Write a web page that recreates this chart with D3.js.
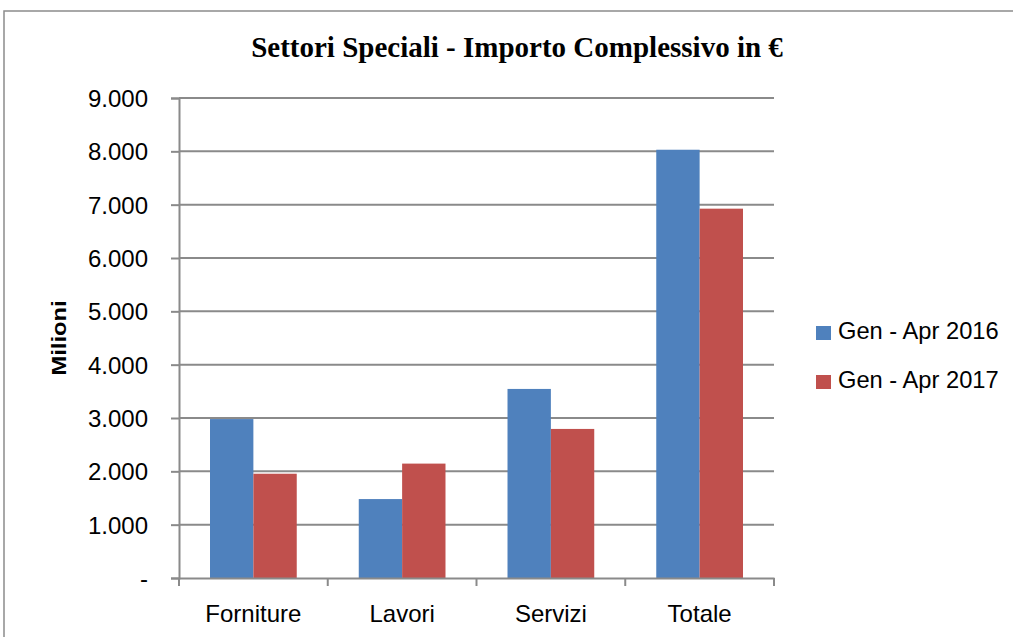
<!DOCTYPE html>
<html><head><meta charset="utf-8">
<script src="https://cdn.jsdelivr.net/npm/d3@7"></script>
<style>body{margin:0;background:#fff}svg{display:block}</style>
</head><body>
<svg id="c" width="1013" height="637"></svg>
<script>
const categories = ["Forniture", "Lavori", "Servizi", "Totale"];
const seriesNames = ["Gen - Apr 2016", "Gen - Apr 2017"];
const values2016 = [2980, 1480, 3545, 8030];
const values2017 = [1955, 2145, 2795, 6925];
const tickValues = [0, 1000, 2000, 3000, 4000, 5000, 6000, 7000, 8000, 9000];
const tickLabels = ["-", "1.000", "2.000", "3.000", "4.000", "5.000", "6.000", "7.000", "8.000", "9.000"];
const colors = ["#4F81BD", "#C0504D"];

const svg = d3.select("#c");
const sans = "Liberation Sans, Arial, sans-serif";
const m = {left: 179, right: 774, top: 98, bottom: 578};

svg.append("rect").attr("x", 4).attr("y", 11).attr("width", 1020).attr("height", 640)
  .attr("fill", "none").attr("stroke", "#8c8c8c").attr("stroke-width", 1.5);

svg.append("text").attr("x", 517).attr("y", 57).attr("text-anchor", "middle")
  .attr("font-family", "Liberation Serif, Times New Roman, serif").attr("font-weight", "bold")
  .attr("font-size", 29).attr("fill", "#000").text("Settori Speciali - Importo Complessivo in €");

const x = d3.scaleBand().domain(categories).range([m.left, m.right]).paddingInner(0).paddingOuter(0);
const y = d3.scaleLinear().domain([0, 9000]).range([m.bottom, m.top]);
const xs = d3.scaleBand().domain([0, 1]).range([0, x.bandwidth()]).paddingInner(0).paddingOuter(0.715);

// gridlines
svg.append("g").selectAll("line").data(tickValues.filter(d => d > 0)).join("line")
  .attr("x1", m.left).attr("x2", m.right).attr("y1", d => y(d)).attr("y2", d => y(d))
  .attr("stroke", "#8a8a8a").attr("stroke-width", 2);

// bars
const data = categories.map((c, i) => ({c, v: [values2016[i], values2017[i]]}));
const g = svg.append("g").selectAll("g").data(data).join("g")
  .attr("transform", d => `translate(${x(d.c)},0)`);
g.selectAll("rect").data(d => d.v.map((v, k) => ({v, k}))).join("rect")
  .attr("x", d => xs(d.k)).attr("width", xs.bandwidth())
  .attr("y", d => y(d.v)).attr("height", d => y(0) - y(d.v))
  .attr("fill", d => colors[d.k]);

// y axis
const ya = svg.append("g").attr("transform", `translate(${m.left},0)`)
  .call(d3.axisLeft(y).tickValues(tickValues).tickFormat((d, i) => tickLabels[i]).tickSize(8).tickPadding(23));
ya.select(".domain").attr("stroke", "#8a8a8a").attr("stroke-width", 2);
ya.selectAll(".tick line").attr("stroke", "#8a8a8a").attr("stroke-width", 2);
ya.selectAll(".tick text").attr("font-family", sans).attr("font-size", 24).attr("fill", "#000")
  .attr("dy", "0.35em");

// x axis
const xa = svg.append("g").attr("transform", `translate(0,${m.bottom})`)
  .call(d3.axisBottom(x).tickSize(0));
xa.select(".domain").attr("stroke", "#8a8a8a").attr("stroke-width", 2);
xa.selectAll(".tick text").attr("font-family", sans).attr("font-size", 24).attr("fill", "#000")
  .attr("y", 44).attr("dy", 0);
const bounds = categories.map(c => x(c)).concat([m.right]);
xa.selectAll(".sep").data(bounds).join("line").attr("class", "sep")
  .attr("x1", d => d).attr("x2", d => d).attr("y1", 0).attr("y2", 8)
  .attr("stroke", "#8a8a8a").attr("stroke-width", 2);

// y title
svg.append("text").attr("transform", "translate(65.5,338) rotate(-90)").attr("text-anchor", "middle")
  .attr("font-family", sans).attr("font-weight", "bold").attr("font-size", 20)
  .attr("textLength", 75).attr("lengthAdjust", "spacingAndGlyphs")
  .attr("fill", "#000").text("Milioni");

// legend
const lg = svg.append("g").selectAll("g").data(seriesNames).join("g")
  .attr("transform", (d, i) => `translate(816,${326 + i * 49})`);
lg.append("rect").attr("width", 15).attr("height", 14).attr("fill", (d, i) => colors[i]);
lg.append("text").attr("x", 22).attr("y", 13).attr("font-family", sans).attr("font-size", 23.7)
  .attr("fill", "#000").text(d => d);
</script>
</body></html>
